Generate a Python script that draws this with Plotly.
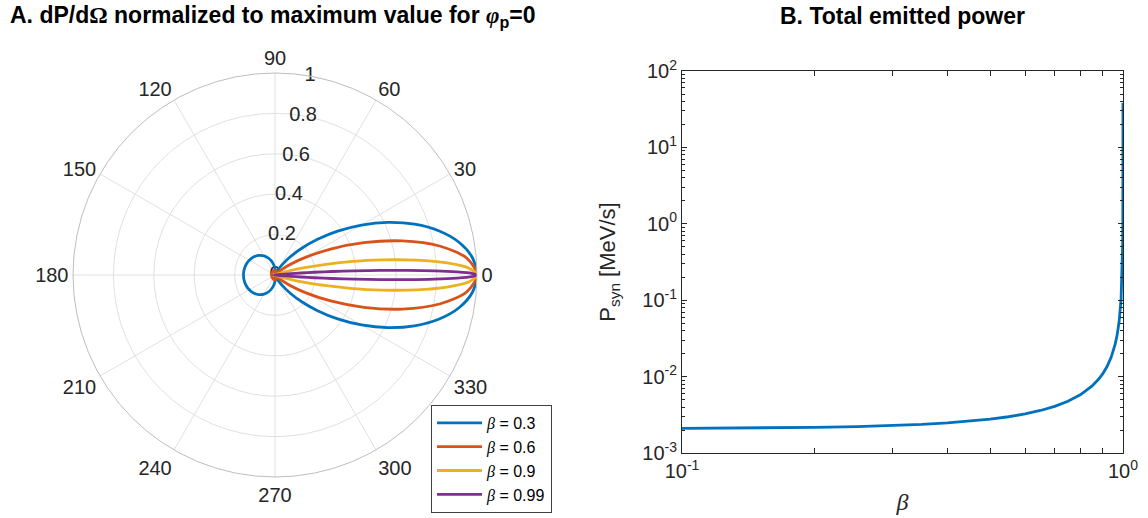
import plotly.graph_objects as go

# ---- Panel A: normalized angular distribution dP/dOmega (phi_p = 0) ----
# half-curves from 0 to 180 degrees; each curve is symmetric about the 0-180 line
theta_03 = [0, 5, 10, 15, 20, 25, 30, 35, 40, 45, 50, 55, 60, 65, 70, 72.54, 75, 80,
            90, 100, 110, 120, 130, 140, 150, 160, 170, 180]
r_03 = [1, 0.9811, 0.9265, 0.8418, 0.7351, 0.6162, 0.4946, 0.3787, 0.2749, 0.1873,
        0.1176, 0.0660, 0.0309, 0.0102, 0.0010, 0, 0.0009, 0.0072,
        0.0309, 0.0597, 0.0868, 0.1091, 0.1262, 0.1386, 0.1470, 0.1523, 0.1552, 0.1561]

theta_06 = [0, 5, 10, 15, 20, 25, 30, 35, 40, 45, 50, 53.13, 55, 60, 70, 80, 90, 100,
            120, 140, 160, 180]
r_06 = [1, 0.9535, 0.8269, 0.6523, 0.4677, 0.3038, 0.1771, 0.0904, 0.0383, 0.0116,
        0.0013, 0, 0.0004, 0.0038, 0.0134, 0.0202, 0.0230, 0.0233, 0.0209, 0.0180,
        0.0162, 0.0156]

theta_09 = [0, 2, 4, 6, 8, 10, 12, 14, 16, 18, 20, 22, 25, 25.84, 30, 40, 60, 90, 120, 180]
r_09 = [1, 0.9612, 0.8541, 0.7024, 0.5355, 0.3789, 0.2489, 0.1511, 0.0841, 0.0420,
        0.0180, 0.0059, 0.0002, 0, 0.0022, 0.0062, 0.0032, 0.0008, 0.0003, 0.0001]

theta_099 = [0, 0.5, 1, 1.5, 2, 2.5, 3, 3.5, 4, 4.5, 5, 6, 7, 8.11, 10, 20, 30, 90, 180]
r_099 = [1, 0.9739, 0.8998, 0.7893, 0.6580, 0.5219, 0.3942, 0.2836, 0.1943, 0.1263,
         0.0776, 0.0234, 0.0041, 0, 0.0027, 0.0015, 0.0003, 0, 0]

betas = ["0.3", "0.6", "0.9", "0.99"]
colors = ["#0072BD", "#D95319", "#EDB120", "#7E2F8E"]

# radial tick labels, drawn along the 80 degree spoke
r_ticks = [0, 0.2, 0.4, 0.6, 0.8, 1]
r_tick_labels = ["0", "0.2", "0.4", "0.6", "0.8", "1"]
r_label_angle = 80

# ---- Panel B: total emitted power vs beta ----
beta_vals = [0.1, 0.15, 0.2, 0.25, 0.3, 0.35, 0.4, 0.45, 0.5, 0.55, 0.6, 0.65, 0.7,
             0.75, 0.8, 0.85, 0.88, 0.9, 0.92, 0.94, 0.95, 0.96, 0.97, 0.98, 0.99,
             0.995, 0.998, 0.999, 0.9995, 0.9998, 0.9999, 0.99995, 0.99997, 0.999973]
p_syn = [2.100e-3, 2.128e-3, 2.167e-3, 2.219e-3, 2.286e-3, 2.370e-3, 2.476e-3,
         2.608e-3, 2.773e-3, 2.982e-3, 3.250e-3, 3.602e-3, 4.078e-3, 4.754e-3,
         5.778e-3, 7.495e-3, 9.220e-3, 1.0947e-2, 1.3542e-2, 1.787e-2, 2.133e-2,
         2.653e-2, 3.519e-2, 5.253e-2, 0.1045, 0.2085, 0.5205, 1.0405, 2.081, 5.2,
         10.40, 20.80, 34.67, 38.5]

TXT = "#262626"
W, H = 1148, 518
SERIF = "Liberation Serif, Times New Roman, serif"


def full_curve(th, r):
    """Mirror a 0..180 half-curve to the full 0..360 range."""
    th_full = list(th) + [360 - t for t in reversed(th[:-1])]
    r_full = list(r) + list(reversed(r[:-1]))
    return th_full, r_full


fig = go.Figure()

# radial tick labels first, so the curves sit on top of them
fig.add_trace(go.Scatterpolar(
    theta=[r_label_angle] * len(r_ticks), r=r_ticks, text=r_tick_labels,
    mode="text", textposition="middle center",
    textfont=dict(size=20, color=TXT), subplot="polar",
    showlegend=False, hoverinfo="skip"))

for th, r, b, c in zip([theta_03, theta_06, theta_09, theta_099],
                       [r_03, r_06, r_09, r_099], betas, colors):
    tf, rf = full_curve(th, r)
    fig.add_trace(go.Scatterpolar(
        theta=tf, r=rf, mode="lines",
        line=dict(color=c, width=2.8, shape="spline", smoothing=0.8),
        name=f"<i><span style='font-family:{SERIF}'>β</span></i> = {b}",
        subplot="polar", showlegend=True))

fig.add_trace(go.Scatter(
    x=beta_vals, y=p_syn, mode="lines", line=dict(color="#0072BD", width=2.8),
    xaxis="x", yaxis="y", showlegend=False))

# polar square: center (275, 275) px, radius 202 px
cx, cy, rad = 275, 275, 202
# right axes box in px
bx0, bx1, by0, by1 = 682, 1123, 71, 453

fig.update_layout(
    width=W, height=H,
    margin=dict(l=0, r=0, t=0, b=0, autoexpand=False),
    paper_bgcolor="white", plot_bgcolor="white",
    font=dict(family="Liberation Sans, Arial, sans-serif", color=TXT, size=20),
    polar=dict(
        domain=dict(x=[(cx - rad) / W, (cx + rad) / W],
                    y=[(H - cy - rad) / H, (H - cy + rad) / H]),
        bgcolor="white",
        angularaxis=dict(
            tickvals=list(range(0, 360, 30)), ticktext=[str(a) for a in range(0, 360, 30)],
            direction="counterclockwise", rotation=0,
            showline=True, linecolor="#bdbdbd", linewidth=1,
            gridcolor="#e0e0e0", gridwidth=1, ticks="",
            tickfont=dict(size=20, color=TXT)),
        radialaxis=dict(
            range=[0, 1], tickvals=r_ticks, showticklabels=False,
            angle=r_label_angle, showline=False, ticks="",
            gridcolor="#e0e0e0", gridwidth=1),
    ),
    xaxis=dict(
        type="log", range=[-1, 0], domain=[bx0 / W, bx1 / W], anchor="y",
        automargin=False,
        showline=True, linecolor=TXT, linewidth=1, mirror="allticks",
        ticks="inside", ticklen=5, tickcolor=TXT,
        tickvals=[0.1, 1], ticktext=["10<sup>-1</sup>", "10<sup>0</sup>"],
        minor=dict(tickvals=[0.2, 0.3, 0.4, 0.5, 0.6, 0.7, 0.8, 0.9],
                   ticks="inside", ticklen=5, tickcolor=TXT, showgrid=False),
        showgrid=False, zeroline=False, tickfont=dict(size=20, color=TXT),
        title=dict(text="<i>β</i>", font=dict(family=SERIF, size=24, color=TXT), standoff=12),
    ),
    yaxis=dict(
        type="log", range=[-3, 2], domain=[1 - by1 / H, 1 - by0 / H], anchor="x",
        automargin=False,
        showline=True, linecolor=TXT, linewidth=1, mirror="allticks",
        ticks="inside", ticklen=5, tickcolor=TXT,
        tickvals=[1e-3, 1e-2, 1e-1, 1, 10, 100],
        ticktext=["10<sup>-3</sup>", "10<sup>-2</sup>", "10<sup>-1</sup>",
                  "10<sup>0</sup>", "10<sup>1</sup>", "10<sup>2</sup>"],
        minor=dict(dtick="D1", ticks="inside", ticklen=3, tickcolor=TXT, showgrid=False),
        showgrid=False, zeroline=False, tickfont=dict(size=20, color=TXT),
        title=dict(text="P<sub>syn</sub> [MeV/s]", font=dict(size=22, color=TXT), standoff=20),
    ),
    legend=dict(
        x=431 / W, y=1 - 405 / H, xanchor="left", yanchor="top",
        bgcolor="white", bordercolor="#404040", borderwidth=1,
        font=dict(size=16, color="black"), itemwidth=45, tracegroupgap=0,
    ),
    annotations=[
        dict(text=f"<b>A. dP/d<span style='font-family:{SERIF}'>Ω</span> normalized to maximum value for "
                  f"<i><span style='font-family:{SERIF}'>φ</span></i><sub>p</sub>=0</b>",
             x=8 / W, y=1 - 16 / H, xref="paper", yref="paper", xanchor="left", yanchor="middle",
             align="left", showarrow=False, font=dict(size=23, color="black")),
        dict(text="<b>B. Total emitted power</b>",
             x=(bx0 + bx1) / 2 / W, y=1 - 16 / H, xref="paper", yref="paper",
             xanchor="center", yanchor="middle",
             showarrow=False, font=dict(size=23, color="black")),
    ],
)

fig.write_html("out.html")
